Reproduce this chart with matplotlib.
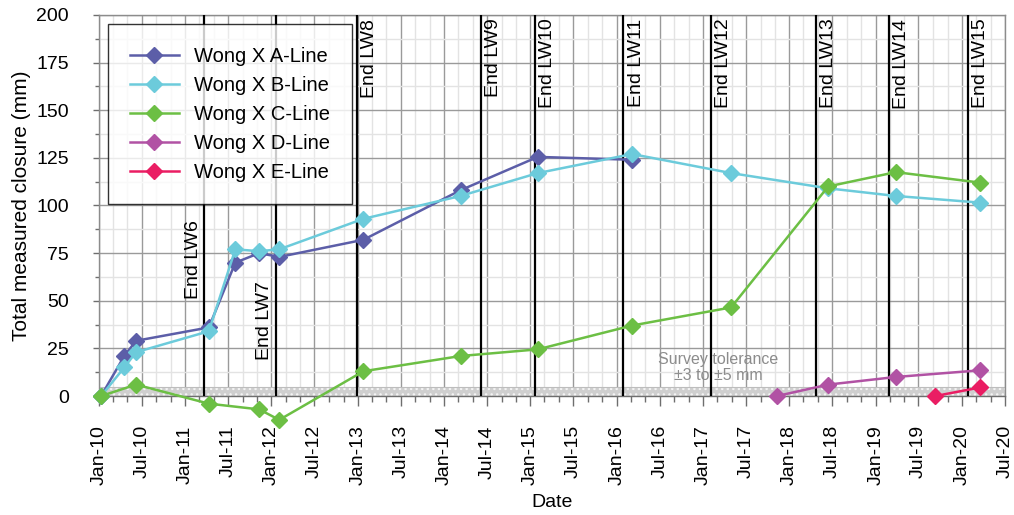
import numpy as np
import pandas as pd
import matplotlib
matplotlib.use('Agg')
import matplotlib.pyplot as plt
import matplotlib.dates as mdates

plt.rcParams['font.family'] = ['Liberation Sans', 'DejaVu Sans']

# survey dates and closure values (mm) for each line
a_dates = ['2010-01-10', '2010-04-18', '2010-06-07', '2011-04-11', '2011-08-01', '2011-11-10',
           '2012-02-03', '2013-01-24', '2014-03-11', '2015-02-01', '2016-03-06']
a_vals = [0, 21, 29, 36, 70, 75, 73, 82, 108, 125.5, 124]

b_dates = ['2010-01-10', '2010-04-18', '2010-06-07', '2011-04-11', '2011-08-01', '2011-11-10',
           '2012-02-03', '2013-01-24', '2014-03-11', '2015-02-01', '2016-03-06', '2017-04-29',
           '2018-06-14', '2019-03-27', '2020-03-18']
b_vals = [0, 15, 23, 34, 77, 76, 77, 93, 105, 117, 127, 117, 109, 105, 101.5]

c_dates = ['2010-01-10', '2010-06-07', '2011-04-11', '2011-11-10', '2012-02-03', '2013-01-24',
           '2014-03-11', '2015-02-01', '2016-03-06', '2017-04-29', '2018-06-14', '2019-03-27',
           '2020-03-18']
c_vals = [0, 6, -4, -7, -12.5, 13, 21, 24.5, 37, 46.5, 110, 117.5, 112]

d_dates = ['2017-11-09', '2018-06-14', '2019-03-27', '2020-03-18']
d_vals = [0, 6, 10, 13.5]

e_dates = ['2019-09-10', '2020-03-18']
e_vals = [0, 4.5]

# end of longwall panels
lw_names = ['End LW6', 'End LW7', 'End LW8', 'End LW9', 'End LW10', 'End LW11',
            'End LW12', 'End LW13', 'End LW14', 'End LW15']
lw_dates = ['2011-03-23', '2012-01-22', '2012-12-28', '2014-06-05', '2015-01-20',
            '2016-01-29', '2017-02-01', '2018-04-23', '2019-02-27', '2020-01-26']

series = [
    ('Wong X A-Line', a_dates, a_vals, '#5c5ea8'),
    ('Wong X B-Line', b_dates, b_vals, '#6ccbdb'),
    ('Wong X C-Line', c_dates, c_vals, '#6cbf44'),
    ('Wong X D-Line', d_dates, d_vals, '#b152a4'),
    ('Wong X E-Line', e_dates, e_vals, '#ea1d63'),
]

fig = plt.figure(figsize=(10.14, 5.15), dpi=100)
ax = fig.add_axes([0.0976, 0.231, 0.8935, 0.740])

x0, x1 = pd.Timestamp('2010-01-01'), pd.Timestamp('2020-07-01')
ax.set_xlim(x0, x1)
ax.set_ylim(0, 200)

# survey tolerance band
ax.axhspan(0, 5, facecolor='#cfcfcf', hatch='...', edgecolor='#f4f4f4', linewidth=0, zorder=1)
ax.axhline(5, color='#bdbdbd', lw=0.8, zorder=1)
ax.text(pd.Timestamp('2017-03-05'), 15, 'Survey tolerance\n\u00b13 to \u00b15 mm',
        ha='center', va='center', fontsize=11.5, color='#8c8c8c', linespacing=1.15, zorder=2)

# longwall completion lines
for i, (name, d) in enumerate(zip(lw_names, lw_dates)):
    d = pd.Timestamp(d)
    ax.axvline(d, color='black', lw=1.6, zorder=3)
    if i == 0:
        ax.annotate(name, (d, 51), xytext=(-1.5, 0), textcoords='offset points',
                    rotation=90, ha='right', va='bottom', fontsize=14)
    elif i == 1:
        ax.annotate(name, (d, 19), xytext=(-2.5, 0), textcoords='offset points',
                    rotation=90, ha='right', va='bottom', fontsize=14)
    else:
        ax.annotate(name, (d, 198), xytext=(3, 0), textcoords='offset points',
                    rotation=90, ha='left', va='top', fontsize=14)

for label, dates, vals, color in series:
    ax.plot(pd.to_datetime(dates), vals, color=color, lw=1.8, marker='D', ms=8,
            label=label, clip_on=False, zorder=5)

# axes styling
ax.xaxis.set_major_locator(mdates.MonthLocator(bymonth=[1, 7]))
ax.xaxis.set_minor_locator(mdates.MonthLocator(bymonth=range(1, 13, 2)))
ax.xaxis.set_major_formatter(mdates.DateFormatter('%b-%y'))
ax.set_yticks(np.arange(0, 201, 25))
ax.set_yticks(np.arange(12.5, 200, 25), minor=True)

ax.grid(which='major', color='#9a9a9a', lw=1.0, zorder=0)
ax.grid(which='minor', color='#e3e3e3', lw=1.0, zorder=0)
ax.set_axisbelow(True)
for s in ax.spines.values():
    s.set_color('#8c8c8c')
    s.set_linewidth(1.0)
ax.spines['bottom'].set_color('#6e6e6e')

ax.tick_params(axis='x', which='major', direction='out', length=7, width=1, color='#6e6e6e',
               pad=14, labelsize=14, labelrotation=90)
ax.tick_params(axis='x', which='minor', direction='out', length=4, width=1, color='#6e6e6e')
ax.tick_params(axis='y', which='major', direction='out', length=4.5, width=1, color='#6e6e6e',
               pad=17, labelsize=14)
ax.tick_params(axis='y', which='minor', direction='out', length=3, width=1, color='#6e6e6e')

ax.set_xlabel('Date', fontsize=14, labelpad=6)
ax.set_ylabel('Total measured closure (mm)', fontsize=15, labelpad=4)

leg = ax.legend(loc='upper left', bbox_to_anchor=(0.01, 0.975), borderaxespad=0,
                fontsize=14.5, frameon=True, fancybox=False, edgecolor='black',
                handlelength=2.4, handletextpad=0.75, labelspacing=0.5, borderpad=1.1)
leg.get_frame().set_linewidth(1.0)
leg.set_zorder(10)

fig.savefig('out.png', dpi=100)
